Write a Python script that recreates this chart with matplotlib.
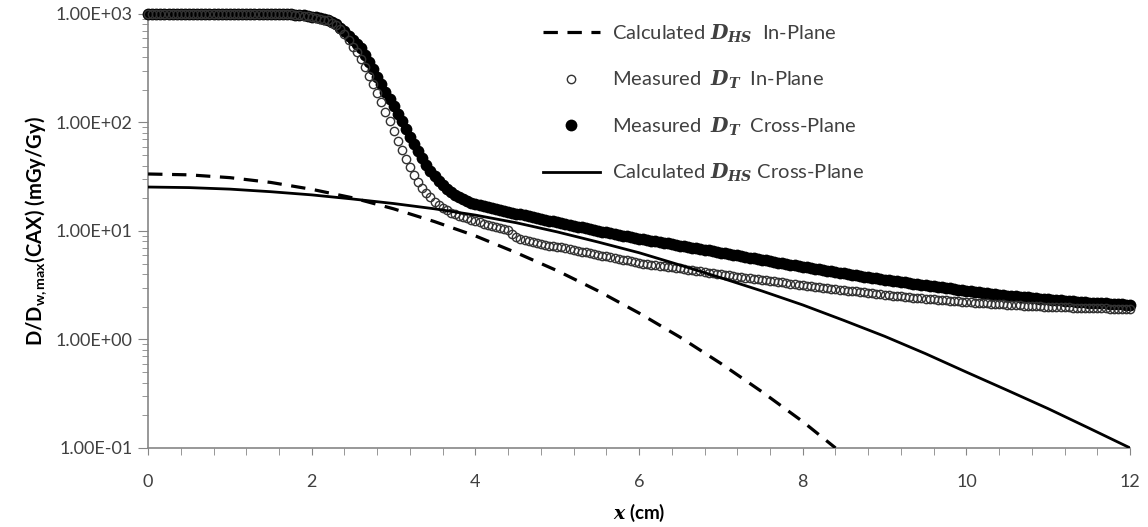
import numpy as np
import matplotlib
matplotlib.use('Agg')
import matplotlib.pyplot as plt
from matplotlib.ticker import FuncFormatter, LogLocator, MultipleLocator, NullFormatter

plt.rcParams['font.family'] = 'Lato'
plt.rcParams['mathtext.fontset'] = 'custom'
plt.rcParams['mathtext.rm'] = 'Lato'
plt.rcParams['mathtext.bf'] = 'Lato:bold'
plt.rcParams['mathtext.it'] = 'Lato:italic'
plt.rcParams['mathtext.bfit'] = 'DejaVu Serif:italic:bold'

# measured profiles, sampled every 0.05 cm from 0 to 12 cm
# values read off the log axis as decades (log10 of mGy/Gy)
x_meas = np.linspace(0, 12, 241)

cross_meas_log = [
    3.0, 3.0, 3.0, 3.0, 3.0, 3.0, 3.0, 3.0, 3.0, 3.0,
    3.0, 3.0, 3.0, 3.0, 3.0, 3.0, 3.0, 3.0, 3.0, 3.0,
    3.0, 3.0, 3.0, 3.0, 3.0, 3.0, 3.0, 3.0, 3.0, 3.0,
    3.0, 3.0, 3.0,
    3.0, 2.998, 2.997, 2.995, 2.992, 2.988, 2.982, 2.975,
    2.968, 2.96, 2.953, 2.948, 2.93, 2.905, 2.875, 2.84, 2.80, 2.76,
    2.72, 2.685, 2.62, 2.555, 2.49, 2.42, 2.35, 2.28, 2.215, 2.15,
    2.08, 2.01, 1.94, 1.87, 1.80, 1.735, 1.67, 1.61, 1.555, 1.505,
    1.46, 1.42, 1.385, 1.355, 1.33, 1.31, 1.29, 1.275, 1.262, 1.25,
    1.241, 1.232, 1.223, 1.214, 1.205, 1.196, 1.187, 1.178, 1.169, 1.16,
    1.152, 1.144, 1.136, 1.128, 1.12, 1.112, 1.104, 1.096, 1.088, 1.08,
    1.072, 1.064, 1.056, 1.048, 1.04, 1.032, 1.024, 1.016, 1.008, 1.00,
    0.993, 0.986, 0.979, 0.972, 0.965, 0.958, 0.951, 0.944, 0.937, 0.93,
    0.924, 0.917, 0.911, 0.904, 0.898, 0.891, 0.885, 0.878, 0.872, 0.865,
    0.859, 0.852, 0.846, 0.839, 0.833, 0.826, 0.82, 0.813, 0.807, 0.80,
    0.794, 0.787, 0.781, 0.774, 0.768, 0.761, 0.755, 0.748, 0.742, 0.735,
    0.729, 0.722, 0.716, 0.709, 0.703, 0.696, 0.69, 0.683, 0.677, 0.67,
    0.664, 0.658, 0.652, 0.646, 0.64, 0.634, 0.628, 0.622, 0.616, 0.61,
    0.604, 0.598, 0.592, 0.586, 0.58, 0.574, 0.568, 0.562, 0.556, 0.55,
    0.545, 0.54, 0.535, 0.53, 0.525, 0.52, 0.515, 0.51, 0.505, 0.50,
    0.495, 0.49, 0.485, 0.48, 0.475, 0.47, 0.465, 0.46, 0.455, 0.45,
    0.446, 0.441, 0.437, 0.432, 0.428, 0.423, 0.419, 0.414, 0.41, 0.405,
    0.402, 0.398, 0.395, 0.391, 0.388, 0.384, 0.381, 0.377, 0.374, 0.37,
    0.367, 0.364, 0.361, 0.358, 0.355, 0.352, 0.349, 0.346, 0.343, 0.34,
    0.338, 0.336, 0.334, 0.332, 0.33, 0.328, 0.326, 0.324, 0.322, 0.32,
]

in_meas_log = [
    3.0, 3.0, 3.0, 3.0, 3.0, 3.0, 3.0, 3.0, 3.0, 3.0,
    3.0, 3.0, 3.0, 3.0, 3.0, 3.0, 3.0, 3.0, 3.0, 3.0,
    3.0, 3.0, 3.0, 3.0, 3.0, 3.0, 3.0, 3.0, 3.0, 3.0,
    3.0, 3.0, 3.0,
    3.0, 2.998, 2.996, 2.994, 2.99, 2.985, 2.978, 2.97,
    2.965, 2.957, 2.948, 2.94, 2.92, 2.895, 2.86, 2.815, 2.76, 2.70,
    2.645, 2.585, 2.51, 2.43, 2.35, 2.27, 2.19, 2.10, 2.01, 1.92,
    1.83, 1.745, 1.665, 1.59, 1.52, 1.455, 1.40, 1.35, 1.31, 1.27,
    1.235, 1.21, 1.19, 1.17, 1.155, 1.14, 1.13, 1.115, 1.105, 1.09,
    1.08, 1.065, 1.055, 1.045, 1.035, 1.03, 1.02, 1.005, 0.97, 0.945,
    0.93, 0.92, 0.91, 0.90, 0.89, 0.88, 0.875, 0.865, 0.86, 0.855,
    0.848, 0.84, 0.833, 0.825, 0.818, 0.81, 0.803, 0.795, 0.788, 0.78,
    0.773, 0.765, 0.758, 0.75, 0.743, 0.735, 0.728, 0.72, 0.713, 0.705,
    0.70, 0.695, 0.69, 0.685, 0.68, 0.675, 0.67, 0.665, 0.66, 0.655,
    0.65, 0.644, 0.639, 0.633, 0.628, 0.622, 0.617, 0.611, 0.606, 0.60,
    0.595, 0.59, 0.585, 0.58, 0.575, 0.57, 0.565, 0.56, 0.555, 0.55,
    0.545, 0.54, 0.535, 0.53, 0.525, 0.52, 0.515, 0.51, 0.505, 0.50,
    0.496, 0.491, 0.487, 0.482, 0.478, 0.473, 0.469, 0.464, 0.46, 0.455,
    0.451, 0.446, 0.442, 0.437, 0.433, 0.428, 0.424, 0.419, 0.415, 0.41,
    0.407, 0.403, 0.40, 0.396, 0.393, 0.389, 0.386, 0.382, 0.379, 0.375,
    0.372, 0.369, 0.366, 0.363, 0.36, 0.357, 0.354, 0.351, 0.348, 0.345,
    0.343, 0.34, 0.338, 0.335, 0.333, 0.33, 0.328, 0.325, 0.323, 0.32,
    0.318, 0.316, 0.314, 0.312, 0.31, 0.308, 0.306, 0.304, 0.302, 0.30,
    0.299, 0.298, 0.297, 0.296, 0.295, 0.294, 0.293, 0.292, 0.291, 0.29,
    0.289, 0.288, 0.287, 0.286, 0.285, 0.284, 0.283, 0.282, 0.281, 0.28,
]

# calculated D_HS curves
x_calc_in = [0, 0.5, 1.0, 1.5, 2.0, 2.5, 3.0, 3.5, 4.0, 4.5, 5.0, 5.5, 6.0,
             6.5, 7.0, 7.5, 8.0, 8.4]
calc_in = [33.5, 32.9, 31.0, 28.0, 24.2, 20.2, 16.0, 12.2, 9.0, 6.3, 4.3,
           2.8, 1.75, 1.05, 0.6, 0.33, 0.175, 0.1]

x_calc_cross = [0, 0.5, 1.0, 1.5, 2.0, 2.5, 3.0, 3.5, 4.0, 4.5, 5.0, 5.5,
                6.0, 6.5, 7.0, 7.5, 8.0, 8.5, 9.0, 9.5, 10.0, 10.5, 11.0,
                11.5, 12.0]
calc_cross = [25.4, 25.1, 24.3, 23.0, 21.5, 19.7, 17.9, 16.0, 14.0, 11.9,
              9.8, 7.9, 6.3, 4.85, 3.7, 2.8, 2.08, 1.5, 1.07, 0.74, 0.5,
              0.34, 0.23, 0.152, 0.1]

cross_meas = 10 ** np.array(cross_meas_log)
in_meas = 10 ** np.array(in_meas_log)

fig = plt.figure(figsize=(11.48, 5.27), dpi=100)
ax = fig.add_axes([0.129, 0.150, 0.8554, 0.8235])

ax.plot(x_meas, cross_meas, 'o', color='black', markersize=8.5, markeredgewidth=0,
        clip_on=False, zorder=3, label=r'Measured  $\mathbfit{D_T}$  Cross-Plane')
ax.plot(x_meas, in_meas, 'o', markerfacecolor='none', markeredgecolor='#333333',
        markersize=6, markeredgewidth=1.0, clip_on=False, zorder=4,
        label=r'Measured  $\mathbfit{D_T}$  In-Plane')
ax.plot(x_calc_in, calc_in, color='black', lw=2.3, dashes=(4.5, 3),
        zorder=5, label=r'Calculated $\mathbfit{D_{HS}}$  In-Plane')
ax.plot(x_calc_cross, calc_cross, color='black', lw=2.0, zorder=5,
        label=r'Calculated $\mathbfit{D_{HS}}$ Cross-Plane')

ax.set_yscale('log')
ax.set_xlim(0, 12)
ax.set_ylim(0.1, 1000)

gray = '#868686'
txt = '#404040'
for s in ['top', 'right']:
    ax.spines[s].set_visible(False)
for s in ['left', 'bottom']:
    ax.spines[s].set_color(gray)
    ax.spines[s].set_linewidth(1.2)

ax.yaxis.set_major_locator(LogLocator(base=10, numticks=10))
ax.yaxis.set_minor_locator(LogLocator(base=10, subs=np.arange(2, 10), numticks=10))
ax.yaxis.set_minor_formatter(NullFormatter())
ax.yaxis.set_major_formatter(FuncFormatter(lambda v, p: f'{v:.2E}'))
ax.xaxis.set_major_locator(MultipleLocator(2))
ax.xaxis.set_minor_locator(MultipleLocator(0.4))

ax.tick_params(axis='y', which='major', length=7, color=gray, labelsize=13,
               labelcolor=txt, pad=4)
ax.tick_params(axis='y', which='minor', length=4, color=gray)
ax.tick_params(axis='x', which='both', length=5, color=gray, labelsize=13,
               labelcolor=txt, pad=14)

ax.set_xlabel(r'$\mathbfit{x}$ (cm)', fontsize=13.5, fontweight='bold',
              color='black', labelpad=8)
ax.set_ylabel(r'$\mathbf{D/D_{w,max}(CAX)\ (mGy/Gy)}$', fontsize=14.5,
              color='black', labelpad=5)

h, l = ax.get_legend_handles_labels()
order = [2, 1, 0, 3]
leg = ax.legend([h[i] for i in order], [l[i] for i in order],
                loc='upper left', bbox_to_anchor=(0.384, 1.022), frameon=False,
                fontsize=14.5, labelspacing=1.2, handlelength=2.8,
                handletextpad=0.6)
for t in leg.get_texts():
    t.set_color(txt)

fig.savefig('out.png', dpi=100)
